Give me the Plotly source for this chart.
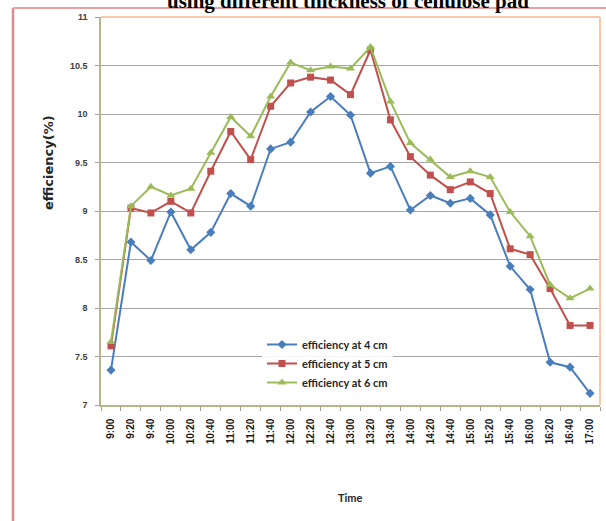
import plotly.graph_objects as go

times = ["9:00", "9:20", "9:40", "10:00", "10:20", "10:40", "11:00", "11:20", "11:40",
         "12:00", "12:20", "12:40", "13:00", "13:20", "13:40", "14:00", "14:20", "14:40",
         "15:00", "15:20", "15:40", "16:00", "16:20", "16:40", "17:00"]

eff_4cm = [7.36, 8.68, 8.49, 8.99, 8.60, 8.78, 9.18, 9.05, 9.64, 9.71, 10.02, 10.18, 9.99,
           9.39, 9.46, 9.01, 9.16, 9.08, 9.13, 8.96, 8.43, 8.19, 7.44, 7.39, 7.12]
eff_5cm = [7.61, 9.03, 8.98, 9.10, 8.98, 9.41, 9.82, 9.53, 10.08, 10.32, 10.38, 10.35, 10.20,
           10.66, 9.94, 9.56, 9.37, 9.22, 9.30, 9.18, 8.61, 8.55, 8.20, 7.82, 7.82]
eff_6cm = [7.65, 9.05, 9.25, 9.16, 9.23, 9.60, 9.97, 9.77, 10.18, 10.53, 10.45, 10.49, 10.47,
           10.69, 10.13, 9.70, 9.53, 9.35, 9.41, 9.35, 8.99, 8.74, 8.24, 8.10, 8.20]

y_ticks = [7, 7.5, 8, 8.5, 9, 9.5, 10, 10.5, 11]
y_tick_text = ["7", "7.5", "8", "8.5", "9", "9.5", "10", "10.5", "11"]

series = [
    ("efficiency at 4 cm", eff_4cm, "#4A7EBB", "diamond", 7),
    ("efficiency at 5 cm", eff_5cm, "#C0504D", "square", 7),
    ("efficiency at 6 cm", eff_6cm, "#9BBB59", "triangle-up", 8),
]

fig = go.Figure()
for name, vals, col, sym, sz in series:
    fig.add_trace(go.Scatter(
        x=times, y=vals, name=name, mode="lines+markers",
        line=dict(color=col, width=2),
        marker=dict(symbol=sym, size=sz, color=col),
    ))

W, H = 606, 521
L, R, T, B = 101, 6, 17, 116
pw, ph = W - L - R, H - T - B

def px(xp):
    return (xp - L) / pw

def py(yp):
    return (H - B - yp) / ph

fig.update_layout(
    width=W, height=H,
    margin=dict(l=L, r=R, t=T, b=B),
    paper_bgcolor="white",
    plot_bgcolor="white",
    showlegend=True,
    legend=dict(
        x=px(262), y=py(330), xanchor="left", yanchor="top",
        bgcolor="rgba(255,255,255,0.9)",
        font=dict(family="Lato", size=11, color="#262626", weight="bold"),
        itemwidth=30, tracegroupgap=0,
    ),
    xaxis=dict(
        type="category", range=[-0.5, 24.5],
        tickangle=-90,
        tickfont=dict(family="Liberation Sans", size=10, color="#1a1a1a", weight="bold"),
        showgrid=False,
        showline=True, linecolor="#B8B48C", linewidth=1.5,
        ticks="outside", ticklen=4, tickcolor="#A0A0A0",
        tickson="boundaries",
        ticklabelstandoff=8,
        mirror=False,
    ),
    yaxis=dict(
        range=[7, 11],
        tickvals=y_ticks, ticktext=y_tick_text,
        tickfont=dict(family="Liberation Sans", size=9, color="#404040", weight="bold"),
        showgrid=True, gridcolor="#A6A6A6", gridwidth=1,
        showline=True, linecolor="#B8B48C", linewidth=1.5,
        ticks="outside", ticklen=4, tickcolor="#A0A0A0",
        zeroline=False,
        ticklabelstandoff=6,
    ),
    shapes=[
        dict(type="line", xref="paper", yref="paper", x0=0, x1=1, y0=1, y1=1,
             line=dict(color="#F8C8A8", width=2)),
        dict(type="line", xref="paper", yref="paper", x0=1, x1=1, y0=0, y1=1,
             line=dict(color="#F8C8A8", width=2)),
        dict(type="line", xref="paper", yref="paper", x0=px(13), x1=px(13), y0=py(521), y1=py(8),
             line=dict(color="#D9898F", width=2.5)),
        dict(type="line", xref="paper", yref="paper", x0=px(13), x1=px(606), y0=py(8), y1=py(8),
             line=dict(color="#E8A0A0", width=2)),
    ],
    annotations=[
        dict(text="using different thickness of cellulose pad", xref="paper", yref="paper",
             x=px(348), y=py(1), xanchor="center", yanchor="middle", showarrow=False,
             font=dict(family="Liberation Serif", size=21, color="black", weight="bold")),
        dict(text="efficiency(%)", xref="paper", yref="paper",
             x=px(48), y=py(163), xanchor="center", yanchor="middle", showarrow=False,
             textangle=-90,
             font=dict(family="DejaVu Sans", size=13, color="#262626", weight="bold")),
        dict(text="Time", xref="paper", yref="paper",
             x=px(350), y=py(497), xanchor="center", yanchor="middle", showarrow=False,
             font=dict(family="Lato", size=11, color="#262626", weight="bold")),
    ],
)

fig.write_html(
    "out.html",
    config={"displayModeBar": False},
    post_script="document.body.style.margin='0';document.body.style.padding='0';"
                "document.body.style.overflow='hidden';",
)
